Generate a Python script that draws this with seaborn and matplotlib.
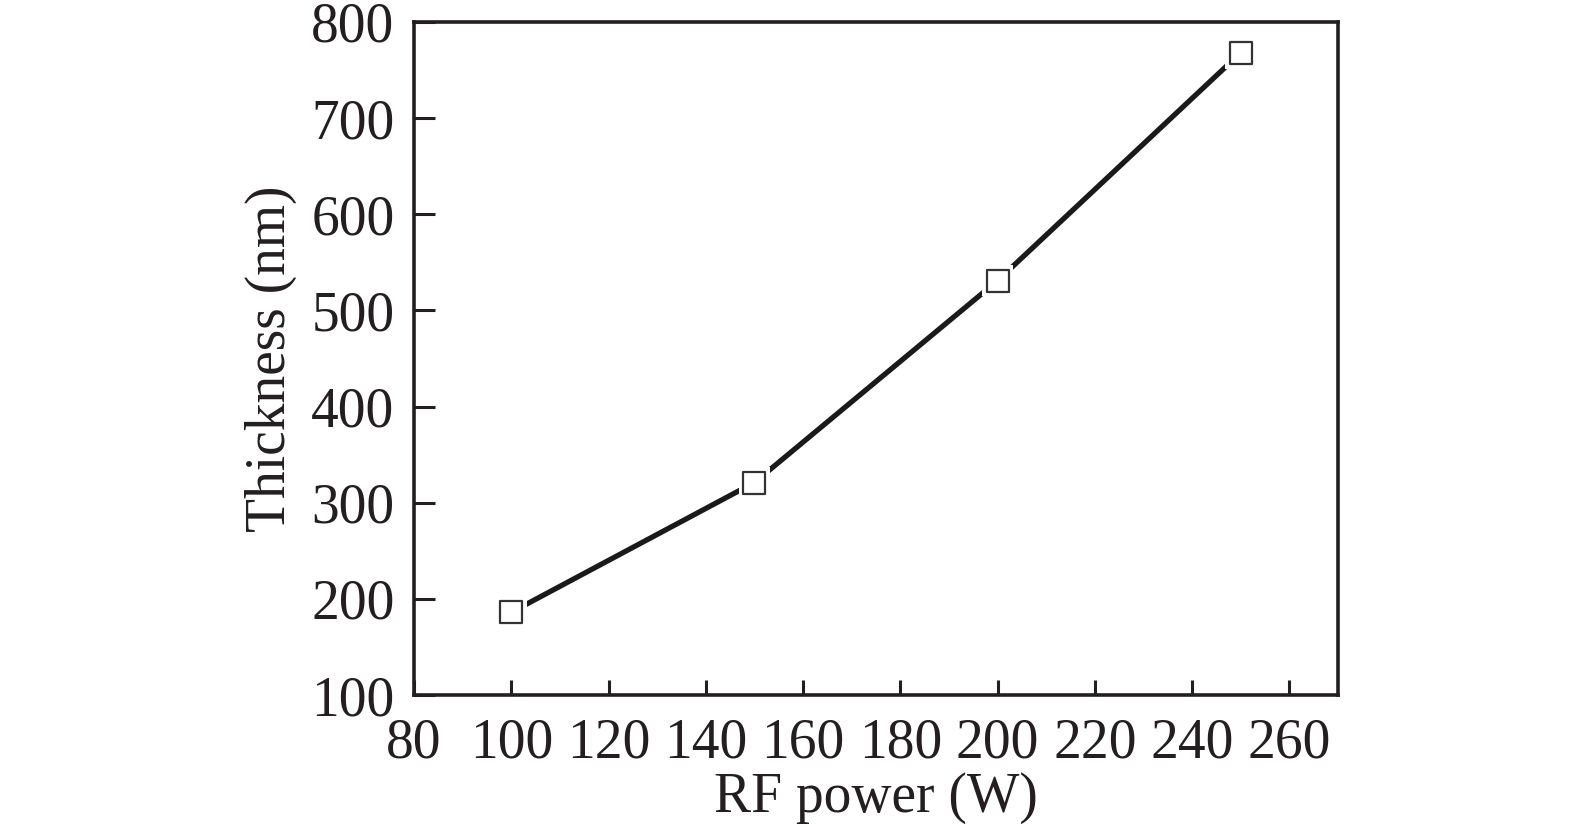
import matplotlib
matplotlib.use("Agg")
import matplotlib.pyplot as plt
import seaborn as sns
import pandas as pd

# RF power vs film thickness
rf_power = [100, 150, 200, 250]
thickness = [186, 321, 531, 768]

x_ticks = [80, 100, 120, 140, 160, 180, 200, 220, 240, 260]
y_ticks = [100, 200, 300, 400, 500, 600, 700, 800]

df = pd.DataFrame({"RF power (W)": rf_power, "Thickness (nm)": thickness})

sns.set_style("ticks")
plt.rcParams['font.family'] = ['Liberation Serif', 'DejaVu Serif']

fig = plt.figure(figsize=(15.75, 8.27), dpi=100)
ax = fig.add_axes([414 / 1575, 1 - 695 / 827, (1338 - 414) / 1575, (695 - 22) / 827])

sns.lineplot(data=df, x="RF power (W)", y="Thickness (nm)", ax=ax,
             color="#1a1a1a", linewidth=3.8, zorder=2)
# white halo so the line stops short of each marker
ax.scatter(df["RF power (W)"], df["Thickness (nm)"], marker="s", s=520,
           color="white", edgecolors="none", zorder=3)
ax.scatter(df["RF power (W)"], df["Thickness (nm)"], marker="s", s=260,
           facecolors="white", edgecolors="#333333", linewidths=1.6, zorder=4)

ax.set_xlim(80, 270)
ax.set_ylim(100, 800)
ax.set_xticks(x_ticks)
ax.set_yticks(y_ticks)

ax.tick_params(direction="in", length=11, width=2.2, labelsize=40,
               top=False, right=False, colors="#231f20")
ax.tick_params(axis="x", pad=16)
ax.tick_params(axis="y", length=15, pad=14)
for s in ax.spines.values():
    s.set_linewidth(2.6)
    s.set_color("#231f20")

ax.set_xlabel("RF power (W)", fontsize=40, color="#231f20", labelpad=2)
ax.set_ylabel("Thickness (nm)", fontsize=40, color="#231f20", labelpad=10)

fig.savefig("out.png", dpi=100)
